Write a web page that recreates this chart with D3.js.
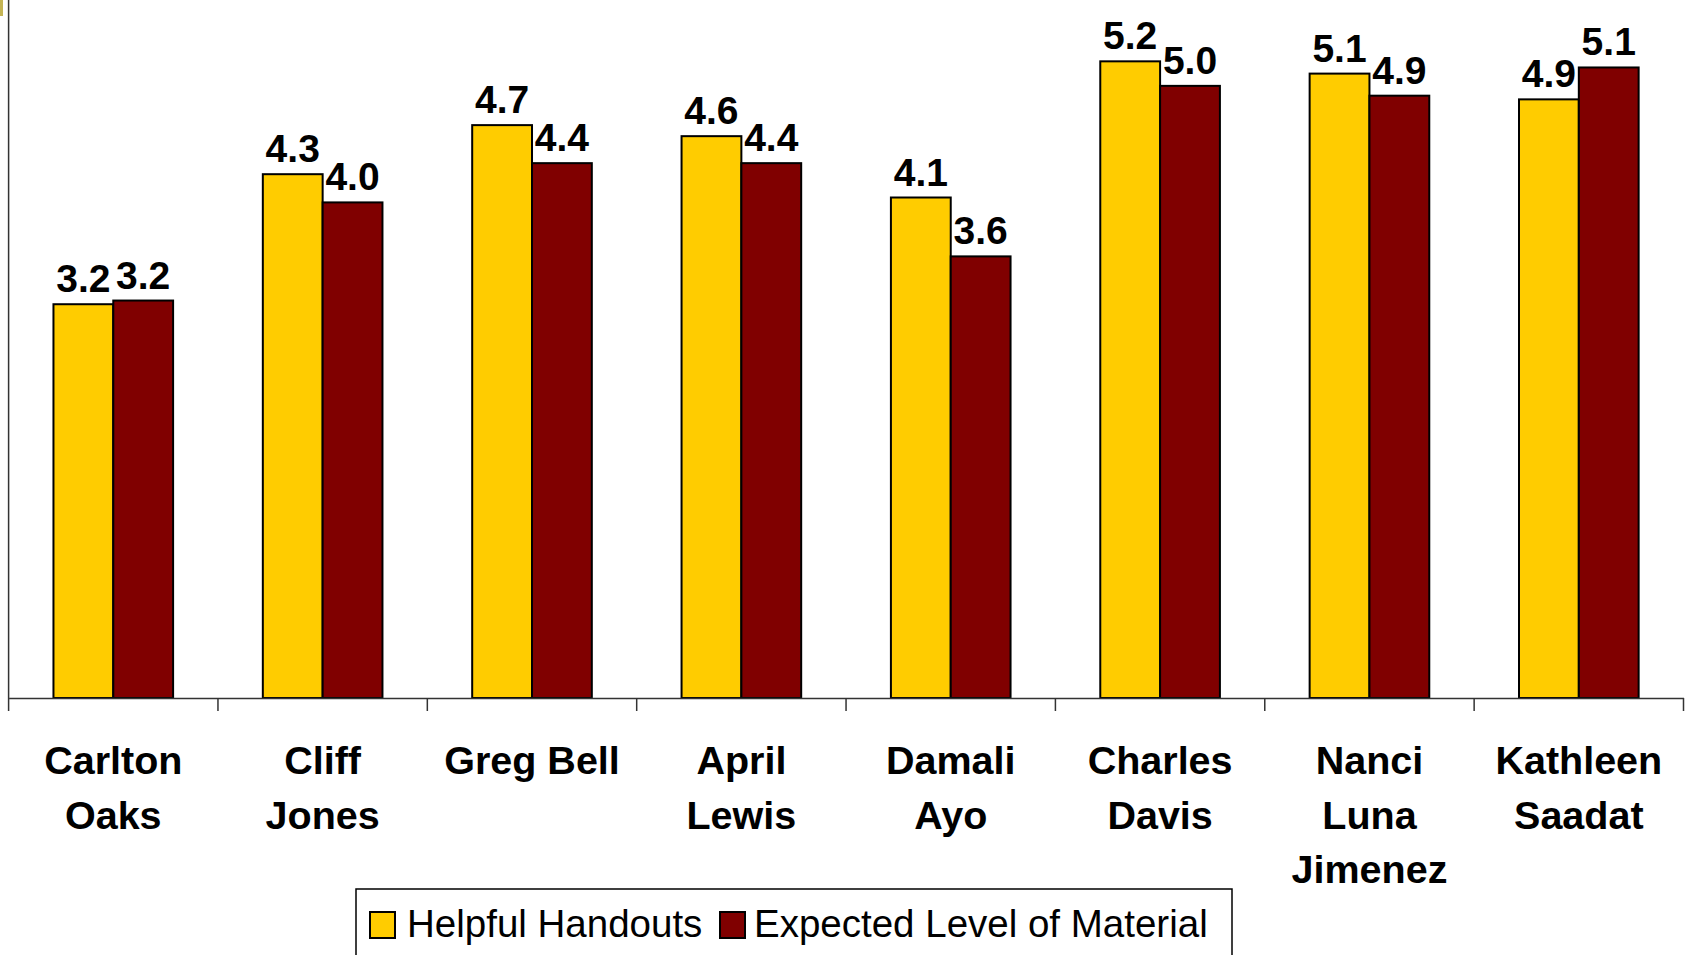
<!DOCTYPE html>
<html>
<head>
<meta charset="utf-8">
<script src="https://cdn.jsdelivr.net/npm/d3@7"></script>
<style>
    body { margin: 0; background: #fff; }
    svg { display: block; font-family: "Liberation Sans", Arial, sans-serif; }
</style>
</head>
<body>
<div id="chart"></div>
<script>
var speakers = [
    ['Carlton', 'Oaks'],
    ['Cliff', 'Jones'],
    ['Greg Bell'],
    ['April', 'Lewis'],
    ['Damali', 'Ayo'],
    ['Charles', 'Davis'],
    ['Nanci', 'Luna', 'Jimenez'],
    ['Kathleen', 'Saadat']
];
var seriesNames = ['Helpful Handouts', 'Expected Level of Material'];
var helpfulHandouts = [3.21, 4.27, 4.67, 4.58, 4.08, 5.19, 5.09, 4.88];
var expectedLevel = [3.24, 4.04, 4.36, 4.36, 3.60, 4.99, 4.91, 5.14];
var seriesColors = ['#FFCC00', '#800000'];

var width = 1690,
    height = 955,
    left = 8.6, right = 1683.5,
    baseline = 698;

var svg = d3.select('#chart').append('svg')
    .attr('width', width)
    .attr('height', height);

// little slide decoration in the corner
svg.append('rect')
    .attr('x', 0).attr('y', 0).attr('width', 3).attr('height', 16)
    .attr('fill', '#c4b454');

var keys = speakers.map(function (d) { return d.join(' '); });
var x0 = d3.scaleBand().domain(keys).range([left, right]).padding(0);
var x1 = d3.scaleBand().domain(seriesNames).range([0, x0.bandwidth()])
    .paddingInner(0).paddingOuter(0.75);
var y = d3.scaleLinear().domain([0, 5.69]).range([baseline, 0]);

var rows = keys.map(function (k, i) {
    return {key: k, values: [
        {name: seriesNames[0], val: helpfulHandouts[i]},
        {name: seriesNames[1], val: expectedLevel[i]}
    ]};
});
var color = d3.scaleOrdinal().domain(seriesNames).range(seriesColors);

var groups = svg.selectAll('.grp')
    .data(rows)
    .enter().append('g')
    .attr('class', 'grp')
    .attr('transform', function (d) { return 'translate(' + x0(d.key) + ',0)'; });

groups.selectAll('rect')
    .data(function (d) { return d.values; })
    .enter().append('rect')
    .attr('x', function (d) { return x1(d.name); })
    .attr('y', function (d) { return y(d.val); })
    .attr('width', x1.bandwidth())
    .attr('height', function (d) { return baseline - y(d.val); })
    .attr('fill', function (d) { return color(d.name); })
    .attr('stroke', '#000')
    .attr('stroke-width', 2);

groups.selectAll('text.val')
    .data(function (d) { return d.values; })
    .enter().append('text')
    .attr('class', 'val')
    .attr('x', function (d) { return x1(d.name) + x1.bandwidth() / 2; })
    .attr('y', function (d) { return y(d.val) - 12; })
    .attr('text-anchor', 'middle')
    .style('font-size', '39px')
    .style('font-weight', 'bold')
    .text(function (d) { return d3.format('.1f')(d.val); });

// x axis with ticks between the categories
var xAxis = d3.axisBottom(x0).tickSize(0).tickFormat('');
var gx = svg.append('g')
    .attr('transform', 'translate(0,' + baseline + ')')
    .call(xAxis);
gx.select('.domain').attr('stroke', '#333').attr('stroke-width', 1.5);
var bounds = x0.domain().map(function (k) { return x0(k); }).concat([right]);
gx.selectAll('.sep')
    .data(bounds)
    .enter().append('line')
    .attr('class', 'sep')
    .attr('x1', function (d) { return d; }).attr('x2', function (d) { return d; })
    .attr('y1', 0).attr('y2', 13)
    .attr('stroke', '#333').attr('stroke-width', 1.5);

// y axis line only
svg.append('line')
    .attr('x1', left).attr('x2', left)
    .attr('y1', 0).attr('y2', baseline)
    .attr('stroke', '#333').attr('stroke-width', 1.5);

// category labels
var catLabels = svg.selectAll('.cat')
    .data(speakers)
    .enter().append('text')
    .attr('class', 'cat')
    .attr('text-anchor', 'middle')
    .style('font-size', '39.5px')
    .style('font-weight', 'bold');
catLabels.selectAll('tspan')
    .data(function (d, i) { return d.map(function (line) { return {line: line, key: keys[i]}; }); })
    .enter().append('tspan')
    .attr('x', function (d) { return x0(d.key) + x0.bandwidth() / 2; })
    .attr('y', function (d, j) { return 774 + j * 54.5; })
    .text(function (d) { return d.line; });

// legend
var legend = svg.append('g');
legend.append('rect')
    .attr('x', 356).attr('y', 889)
    .attr('width', 876).attr('height', 80)
    .attr('fill', '#fff').attr('stroke', '#000').attr('stroke-width', 1.5);
var legendX = [370, 720];
var legendGap = [37, 34];
seriesNames.forEach(function (name, i) {
    legend.append('rect')
        .attr('x', legendX[i]).attr('y', 912)
        .attr('width', 25).attr('height', 26)
        .attr('fill', color(name))
        .attr('stroke', '#000').attr('stroke-width', 2);
    legend.append('text')
        .attr('x', legendX[i] + legendGap[i]).attr('y', 937)
        .style('font-size', '38.5px')
        .text(name);
});
</script>
</body>
</html>
